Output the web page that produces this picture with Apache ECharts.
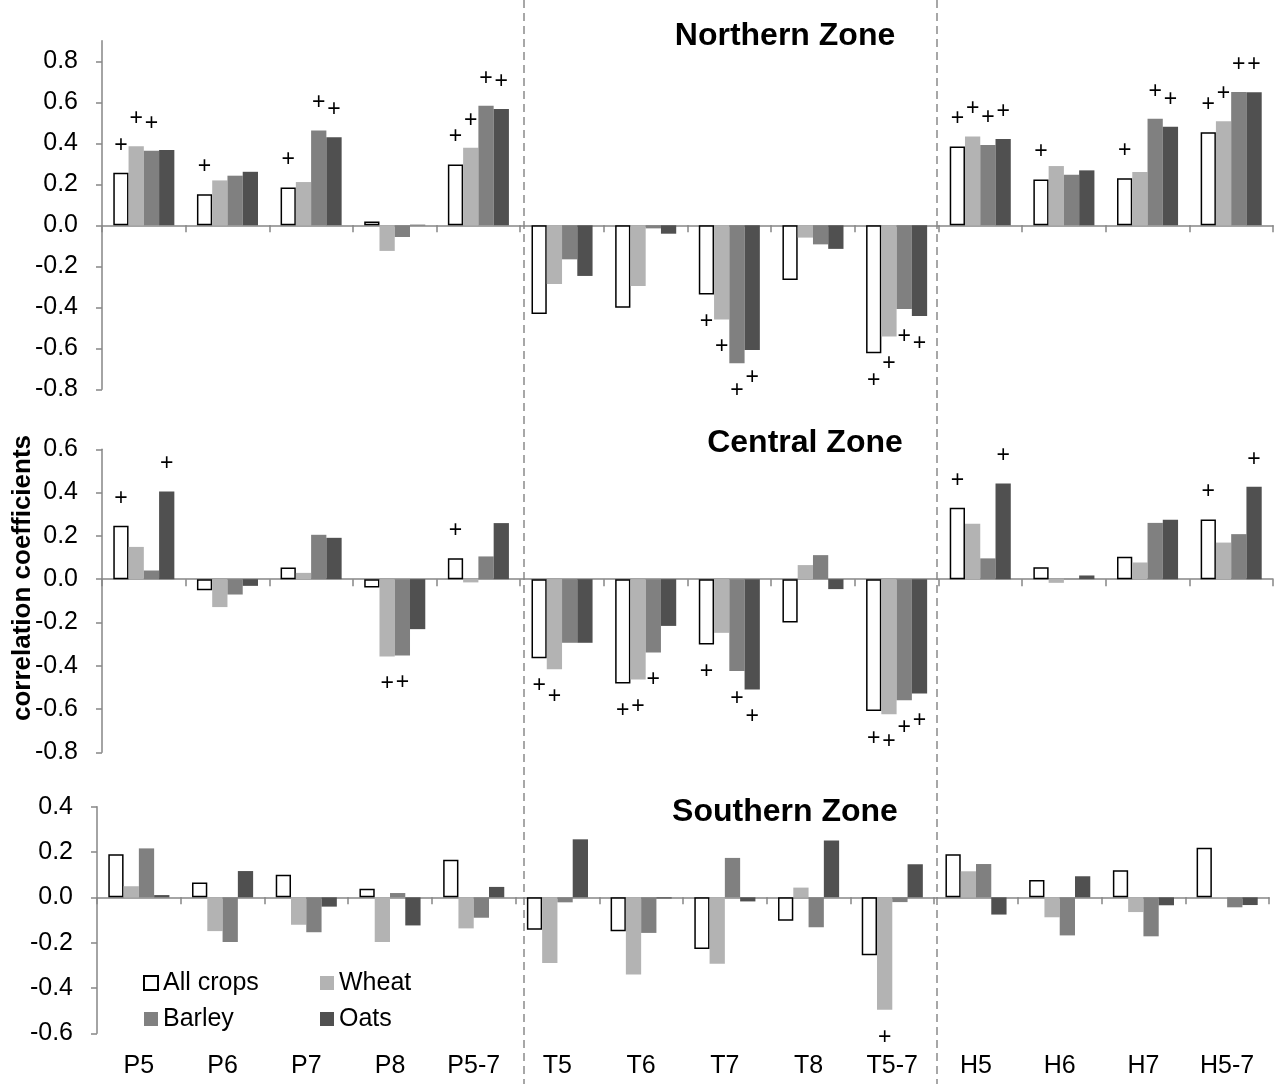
<!DOCTYPE html>
<html>
<head>
<meta charset="utf-8">
<script src="https://cdn.jsdelivr.net/npm/echarts@6/dist/echarts.min.js"></script>
<style>
html,body{margin:0;padding:0;background:#fff;}
#chart{width:1277px;height:1084px;}
</style>
</head>
<body>
<div id="chart"></div>
<script>
const categories = ['P5','P6','P7','P8','P5-7','T5','T6','T7','T8','T5-7','H5','H6','H7','H5-7'];
const seriesNames = ['All crops','Wheat','Barley','Oats'];
const zoneTitles = ['Northern Zone','Central Zone','Southern Zone'];
const yTitle = 'correlation coefficients';

// Northern Zone
const northAll    = [0.256, 0.151, 0.185, 0.018, 0.297, -0.433, -0.402, -0.337, -0.267, -0.624, 0.384, 0.223, 0.229, 0.454];
const northWheat  = [0.386, 0.219, 0.211, -0.125, 0.378, -0.286, -0.296, -0.459, -0.060, -0.543, 0.433, 0.289, 0.260, 0.507];
const northBarley = [0.364, 0.242, 0.463, -0.057, 0.583, -0.166, -0.015, -0.673, -0.093, -0.408, 0.392, 0.246, 0.520, 0.650];
const northOats   = [0.367, 0.261, 0.429, 0.003, 0.567, -0.247, -0.041, -0.608, -0.115, -0.442, 0.421, 0.268, 0.481, 0.649];
const northAllSig    = [1,1,1,0,1, 0,0,1,0,1, 1,1,1,1];
const northWheatSig  = [1,0,0,0,1, 0,0,1,0,1, 1,0,0,1];
const northBarleySig = [1,0,1,0,1, 0,0,1,0,1, 1,0,1,1];
const northOatsSig   = [0,0,1,0,1, 0,0,1,0,1, 1,0,1,1];

// Central Zone
const centralAll    = [0.247, -0.051, 0.054, -0.039, 0.097, -0.365, -0.482, -0.302, -0.200, -0.609, 0.330, 0.055, 0.103, 0.276];
const centralWheat  = [0.149, -0.129, 0.029, -0.357, -0.015, -0.416, -0.464, -0.248, 0.065, -0.624, 0.256, -0.017, 0.077, 0.169];
const centralBarley = [0.040, -0.071, 0.205, -0.353, 0.105, -0.294, -0.339, -0.424, 0.111, -0.559, 0.096, 0.002, 0.260, 0.208];
const centralOats   = [0.405, -0.031, 0.191, -0.231, 0.259, -0.294, -0.216, -0.510, -0.046, -0.528, 0.442, 0.017, 0.274, 0.427];
const centralAllSig    = [1,0,0,0,1, 1,1,1,0,1, 1,0,0,1];
const centralWheatSig  = [0,0,0,1,0, 1,1,0,0,1, 0,0,0,0];
const centralBarleySig = [0,0,0,1,0, 0,1,1,0,1, 0,0,0,0];
const centralOatsSig   = [1,0,0,0,0, 0,0,1,0,1, 1,0,0,1];

// Southern Zone
const southAll    = [0.190, 0.065, 0.100, 0.038, 0.166, -0.143, -0.150, -0.228, -0.103, -0.256, 0.190, 0.076, 0.119, 0.219];
const southWheat  = [0.049, -0.149, -0.121, -0.197, -0.137, -0.290, -0.340, -0.293, 0.043, -0.496, 0.115, -0.088, -0.065, -0.004];
const southBarley = [0.216, -0.197, -0.154, 0.019, -0.090, -0.022, -0.157, 0.174, -0.132, -0.021, 0.147, -0.168, -0.172, -0.044];
const southOats   = [0.010, 0.116, -0.041, -0.124, 0.046, 0.256, -0.005, -0.018, 0.251, 0.146, -0.076, 0.093, -0.035, -0.034];
const southAllSig    = [0,0,0,0,0, 0,0,0,0,0, 0,0,0,0];
const southWheatSig  = [0,0,0,0,0, 0,0,0,0,1, 0,0,0,0];
const southBarleySig = [0,0,0,0,0, 0,0,0,0,0, 0,0,0,0];
const southOatsSig   = [0,0,0,0,0, 0,0,0,0,0, 0,0,0,0];

// y-axis tick labels
const northTicks   = [-0.8,-0.6,-0.4,-0.2,0.0,0.2,0.4,0.6,0.8];
const centralTicks = [-0.8,-0.6,-0.4,-0.2,0.0,0.2,0.4,0.6];
const southTicks   = [-0.6,-0.4,-0.2,0.0,0.2,0.4];

const FONT = "'Liberation Sans', Arial, sans-serif";
const AXIS_GRAY = '#868686';
const styles = {
  'All crops': {color:'#ffffff', borderColor:'#000000', borderWidth:1.5},
  'Wheat': {color:'#b3b3b3'},
  'Barley': {color:'#808080'},
  'Oats': {color:'#505050'}
};

const panels = [
  {vals:[northAll,northWheat,northBarley,northOats], sig:[northAllSig,northWheatSig,northBarleySig,northOatsSig], min:-0.8, max:0.9, ticks:northTicks,
   grid:{left:102, right:4, top:40.8, height:348.5}},
  {vals:[centralAll,centralWheat,centralBarley,centralOats], sig:[centralAllSig,centralWheatSig,centralBarleySig,centralOatsSig], min:-0.8, max:0.6, ticks:centralTicks,
   grid:{left:102, right:4, top:449.3, height:303}},
  {vals:[southAll,southWheat,southBarley,southOats], sig:[southAllSig,southWheatSig,southBarleySig,southOatsSig], min:-0.6, max:0.4, ticks:southTicks,
   grid:{left:97, right:8, top:806.7, height:226.6}}
];

function makeData(values, sig){
  return values.map((v,i) => sig[i] ? {value:v, label:{show:true, position: v >= 0 ? 'top' : 'bottom'}} : v);
}

const grids = [], xAxes = [], yAxes = [], series = [];
panels.forEach((p, gi) => {
  grids.push(Object.assign({containLabel:false, outerBoundsMode:'none'}, p.grid));
  const isLast = gi === panels.length - 1;
  const zeroAxisIndex = xAxes.length;
  xAxes.push({
    type:'category', gridIndex:gi, data:categories,
    position: isLast ? 'top' : 'bottom',
    axisLine:{show:true, onZero:true, lineStyle:{color:AXIS_GRAY, width:1.5}},
    axisTick:{show:true, inside: isLast, length:7, interval:0, lineStyle:{color:AXIS_GRAY, width:1.5}},
    axisLabel:{show:false},
    splitLine:{show:false}
  });
  if (isLast) {
    xAxes.push({
      type:'category', gridIndex:gi, data:categories, position:'bottom',
      axisLine:{show:false, onZero:false}, axisTick:{show:false}, splitLine:{show:false},
      axisLabel:{show:true, interval:0, fontSize:25, fontFamily:FONT, color:'#000', margin:20}
    });
  }
  yAxes.push({
    type:'value', gridIndex:gi, min:p.min, max:p.max, interval:0.2,
    axisLine:{show:true, lineStyle:{color:AXIS_GRAY, width:1.5}},
    axisTick:{show:true, length:6, customValues:p.ticks, lineStyle:{color:AXIS_GRAY, width:1.5}},
    axisLabel:{show:true, customValues:p.ticks, fontSize:25, fontFamily:FONT, color:'#000', margin:24,
      formatter:(v)=>Number(v).toFixed(1)},
    splitLine:{show:false}
  });
  seriesNames.forEach((name, si) => {
    series.push({
      type:'bar', name:name, xAxisIndex:zeroAxisIndex, yAxisIndex:gi,
      data: makeData(p.vals[si], p.sig[si]),
      barGap:'0%', barCategoryGap:'27%',
      itemStyle: styles[name],
      label:{show:false, formatter:'+', fontSize:23, fontFamily:FONT, color:'#000', distance:16},
      emphasis:{disabled:true},
      animation:false
    });
  });
});

const dashStyle = {stroke:'#8a8a8a', lineWidth:1.5, lineDash:[8,5]};
const TITLE_FONT = "bold 32px 'Liberation Sans', Arial, sans-serif";
const option = {
  backgroundColor:'#ffffff',
  animation:false,
  grid:grids, xAxis:xAxes, yAxis:yAxes, series:series,
  legend:[
    {data:['All crops','Barley'], orient:'vertical', left:138, top:965, itemWidth:14, itemHeight:14, itemGap:10,
     selectedMode:false, icon:'rect', textStyle:{fontSize:25, fontFamily:FONT, color:'#000', lineHeight:26}},
    {data:['Wheat','Oats'], orient:'vertical', left:315, top:965, itemWidth:14, itemHeight:14, itemGap:10,
     selectedMode:false, icon:'rect', textStyle:{fontSize:25, fontFamily:FONT, color:'#000', lineHeight:26}}
  ],
  graphic:[
    {type:'line', shape:{x1:524, y1:0, x2:524, y2:1084}, style:dashStyle, silent:true},
    {type:'line', shape:{x1:937, y1:0, x2:937, y2:1084}, style:dashStyle, silent:true},
    {type:'text', x:785, y:36, style:{text:zoneTitles[0], font:TITLE_FONT, fill:'#000', align:'center', verticalAlign:'middle'}},
    {type:'text', x:805, y:443, style:{text:zoneTitles[1], font:TITLE_FONT, fill:'#000', align:'center', verticalAlign:'middle'}},
    {type:'text', x:785, y:812, style:{text:zoneTitles[2], font:TITLE_FONT, fill:'#000', align:'center', verticalAlign:'middle'}},
    {type:'text', x:23, y:578, rotation:Math.PI/2, style:{text:yTitle, font:"bold 26px 'Liberation Sans', Arial, sans-serif", fill:'#000', align:'center', verticalAlign:'middle'}}
  ]
};

const chart = echarts.init(document.getElementById('chart'), null, {renderer:'canvas'});
chart.setOption(option);
</script>
</body>
</html>
